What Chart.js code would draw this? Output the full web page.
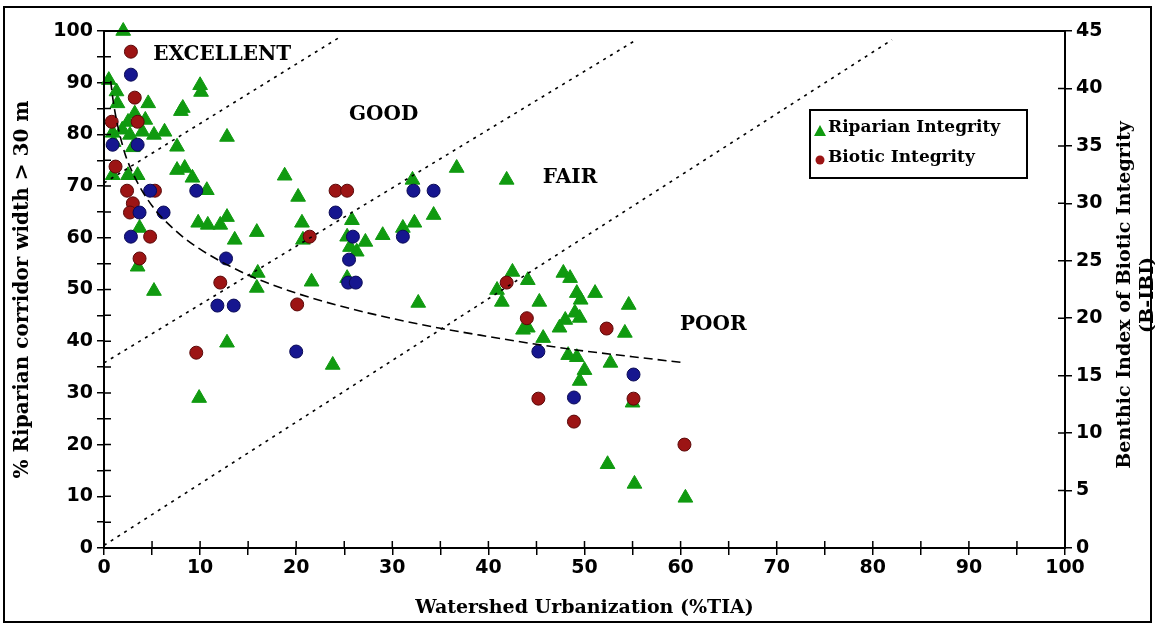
<!DOCTYPE html>
<html>
<head>
<meta charset="utf-8">
<script src="https://cdn.jsdelivr.net/npm/chart.js@4.4.0/dist/chart.umd.min.js"></script>
<style>
  html, body { margin: 0; padding: 0; background: #fff; }
  #wrap { width: 1155px; height: 634px; }
</style>
</head>
<body>
<div id="wrap"><canvas id="chart" width="1155" height="634"></canvas></div>
<script>
// Riparian integrity (% riparian corridor width > 30 m, left axis)
const riparianX = [
  2.0, 0.5, 1.3, 1.4, 4.6, 8.2, 8.0, 10.1, 10.0, 3.2,
  4.3, 2.5, 0.9, 1.9, 2.7, 5.2, 6.3, 7.6, 12.8, 1.0,
  3.0, 4.0, 0.9, 2.5, 3.5, 7.6, 8.4, 9.2, 10.7, 18.8,
  3.7, 9.8, 10.8, 12.1, 12.8, 13.6, 15.9, 3.5, 5.2, 12.8,
  9.9, 16.0, 15.9, 20.2, 20.6, 20.7, 21.6, 23.8, 25.8, 25.3,
  25.6, 26.3, 27.2, 29.0, 31.1, 32.3, 32.1, 34.3, 36.7, 32.7,
  25.3, 41.9, 42.5, 40.9, 41.4, 44.1, 45.3, 47.8, 48.5, 49.2,
  49.6, 51.1, 54.6, 49.0, 49.5, 48.0, 47.4, 43.6, 44.1, 54.2,
  45.7, 48.3, 49.2, 50.0, 49.5, 52.7, 55.0, 52.4, 55.2, 60.5
];
const riparianY = [
  100, 90.5, 88.3, 86, 86, 85.1, 84.5, 88.2, 89.5, 84,
  82.8, 82.4, 80.3, 80.9, 79.9, 79.9, 80.5, 77.6, 79.5, 78.5,
  77.5, 80.5, 72.1, 72.1, 72.1, 73.1, 73.5, 71.6, 69.2, 72,
  61.9, 62.9, 62.5, 62.5, 64, 59.6, 61.1, 54.4, 49.7, 39.7,
  29, 53.2, 50.3, 67.9, 62.9, 59.6, 51.5, 35.4, 63.4, 60.2,
  58.2, 57.3, 59.2, 60.5, 61.9, 62.9, 71.2, 64.4, 73.5, 47.4,
  52.2, 71.2, 53.4, 49.9, 47.6, 51.8, 47.6, 53.2, 52.2, 49.3,
  48, 49.3, 47, 45.5, 44.5, 44.1, 42.6, 42.2, 42.6, 41.6,
  40.6, 37.3, 36.9, 34.4, 32.3, 35.8, 28.1, 16.2, 12.4, 9.7
];

// Biotic integrity (B-IBI, right axis) - red sites
const bioticX = [2.8, 3.2, 0.8, 3.5, 1.2, 2.4, 5.3, 3.0, 2.7, 4.8, 3.7, 12.1,
                 9.6, 20.1, 24.1, 25.3, 21.4, 41.9, 44.0, 52.3, 45.2, 55.1, 48.9, 60.4];
const bioticY = [43.2, 39.2, 37.1, 37.1, 33.2, 31.1, 31.1, 30.0, 29.2, 27.1, 25.2, 23.1,
                 17.0, 21.2, 31.1, 31.1, 27.1, 23.1, 20.0, 19.1, 13.0, 13.0, 11.0, 9.0];

// Biotic integrity (B-IBI, right axis) - blue sites
const bioticBlueX = [2.8, 0.9, 3.5, 4.8, 9.6, 3.7, 6.2, 2.8, 12.7, 11.8, 13.5, 20.0,
                     24.1, 25.9, 25.5, 25.4, 26.2, 32.2, 34.3, 31.1, 45.2, 55.1, 48.9];
const bioticBlueY = [41.2, 35.1, 35.1, 31.1, 31.1, 29.2, 29.2, 27.1, 25.2, 21.1, 21.1, 17.1,
                     29.2, 27.1, 25.1, 23.1, 23.1, 31.1, 31.1, 27.1, 17.1, 15.1, 13.1];

// Trend curve (left axis)
const trendX = [0.7, 1, 2, 3, 5, 7.5, 10, 15, 20, 25, 30, 35, 40, 45, 50, 55, 60.5];
const trendY = [90.3, 85.9, 77.4, 72.5, 66.2, 61.3, 57.8, 52.8, 49.3, 46.6, 44.4, 42.5, 40.9, 39.4, 38.1, 37.0, 35.8];

// Condition class boundaries (left axis)
const boundaryX = [[0, 24.7], [0, 55.4], [0, 82.0]];
const boundaryY = [[70.6, 99.0], [35.8, 98.3], [0.5, 98.3]];

const classLabels = ['EXCELLENT', 'GOOD', 'FAIR', 'POOR'];
const classLabelX = [12.3, 29.1, 48.5, 63.4];
const classLabelY = [95.4, 83.8, 71.6, 43.1];

const xTitle = 'Watershed Urbanization (%TIA)';
const yTitle = '% Riparian corridor width > 30 m';
const y2Title = ['Benthic Index of Biotic Integrity', '(B-IBI)'];

const pts = (xs, ys) => xs.map((x, i) => ({x: x, y: ys[i]}));

const serif = '"DejaVu Serif", "Liberation Serif", serif';
const sans = '"DejaVu Sans", "Liberation Sans", sans-serif';
const green = '#109a10';
const red = '#9c1414';
const blue = '#16168f';

const boundaryDatasets = boundaryX.map((xs, i) => ({
  type: 'line',
  data: pts(xs, boundaryY[i]),
  yAxisID: 'y',
  borderColor: '#000',
  borderWidth: 1.6,
  borderDash: [3, 5],
  pointRadius: 0,
  fill: false
}));

// draws the box, inner tick halves, right title, class labels and legend
const decorPlugin = {
  id: 'decor',
  afterDraw(chart) {
    const {ctx, chartArea: a, scales} = chart;
    ctx.save();
    ctx.strokeStyle = '#000';
    ctx.fillStyle = '#000';

    // outer frame
    ctx.lineWidth = 2;
    ctx.strokeRect(4, 7, 1147, 615);
    // plot box
    ctx.strokeRect(a.left, a.top, a.right - a.left, a.bottom - a.top);

    // tick marks crossing the axis lines
    ctx.lineWidth = 1.5;
    ctx.beginPath();
    scales.x.ticks.forEach(t => {
      const px = scales.x.getPixelForValue(t.value);
      ctx.moveTo(px, a.bottom); ctx.lineTo(px, a.bottom - 7);
    });
    scales.y.ticks.forEach(t => {
      const py = scales.y.getPixelForValue(t.value);
      ctx.moveTo(a.left, py); ctx.lineTo(a.left + 7, py);
    });
    scales.y2.ticks.forEach(t => {
      const py = scales.y2.getPixelForValue(t.value);
      ctx.moveTo(a.right, py); ctx.lineTo(a.right - 7, py);
    });
    ctx.stroke();

    // right axis title, reading bottom to top
    ctx.save();
    ctx.font = 'bold 19px ' + serif;
    ctx.textAlign = 'center';
    ctx.textBaseline = 'middle';
    ctx.translate(1125, 295);
    ctx.rotate(-Math.PI / 2);
    ctx.fillText(y2Title[0], 0, 0);
    ctx.fillText(y2Title[1], 0, 23);
    ctx.restore();

    // condition class labels
    ctx.font = 'bold 20px ' + serif;
    ctx.textAlign = 'center';
    ctx.textBaseline = 'middle';
    classLabels.forEach((txt, i) => {
      ctx.fillText(txt, scales.x.getPixelForValue(classLabelX[i]), scales.y.getPixelForValue(classLabelY[i]));
    });

    // legend
    const lx = 810, ly = 110;
    ctx.lineWidth = 2;
    ctx.fillStyle = '#fff';
    ctx.fillRect(lx, ly, 217, 68);
    ctx.strokeRect(lx, ly, 217, 68);
    ctx.fillStyle = green;
    ctx.beginPath();
    ctx.moveTo(lx + 10, ly + 15); ctx.lineTo(lx + 16, ly + 26); ctx.lineTo(lx + 4, ly + 26);
    ctx.closePath(); ctx.fill();
    ctx.fillStyle = red;
    ctx.beginPath(); ctx.arc(lx + 10, ly + 50, 4.5, 0, Math.PI * 2); ctx.fill();
    ctx.fillStyle = '#000';
    ctx.font = 'bold 17px ' + serif;
    ctx.textAlign = 'left';
    ctx.fillText(chart.data.datasets[6].label, lx + 18, ly + 18);
    ctx.fillText(chart.data.datasets[5].label, lx + 18, ly + 48);
    ctx.restore();
  }
};

const tickFont = {family: sans, size: 19, weight: 'bold'};

new Chart(document.getElementById('chart'), {
  type: 'scatter',
  data: {
    datasets: [
      ...boundaryDatasets,
      {
        type: 'line',
        label: 'Trend',
        data: pts(trendX, trendY),
        yAxisID: 'y',
        borderColor: '#000',
        borderWidth: 1.6,
        borderDash: [9, 5],
        pointRadius: 0,
        cubicInterpolationMode: 'monotone',
        fill: false
      },
      {
        label: 'Biotic Integrity (other sites)',
        data: pts(bioticBlueX, bioticBlueY),
        yAxisID: 'y2',
        pointStyle: 'circle',
        pointRadius: 6.5,
        backgroundColor: blue,
        borderColor: '#0a0a55',
        borderWidth: 1,
        clip: false
      },
      {
        label: 'Biotic Integrity',
        data: pts(bioticX, bioticY),
        yAxisID: 'y2',
        pointStyle: 'circle',
        pointRadius: 6.5,
        backgroundColor: red,
        borderColor: '#5a0808',
        borderWidth: 1,
        clip: false
      },
      {
        label: 'Riparian Integrity',
        data: pts(riparianX, riparianY),
        yAxisID: 'y',
        pointStyle: 'triangle',
        pointRadius: 8.5,
        backgroundColor: green,
        borderColor: green,
        borderWidth: 1,
        clip: false
      }
    ]
  },
  options: {
    responsive: false,
    animation: false,
    layout: {padding: {top: 31}},
    plugins: {
      legend: {display: false},
      tooltip: {enabled: false}
    },
    scales: {
      x: {
        type: 'linear',
        position: 'bottom',
        min: 0,
        max: 100,
        afterFit: s => { s.height = 86; },
        ticks: {
          stepSize: 5,
          autoSkip: false,
          maxRotation: 0,
          padding: 2,
          color: '#000',
          font: tickFont,
          callback: v => (v % 10 === 0 ? v : '')
        },
        grid: {drawOnChartArea: false, tickLength: 7, color: '#000', lineWidth: 1.5},
        border: {color: '#000', width: 2},
        title: {
          display: true,
          text: xTitle,
          color: '#000',
          font: {family: serif, size: 19, weight: 'bold'},
          padding: {bottom: 15}
        }
      },
      y: {
        position: 'left',
        min: 0,
        max: 100,
        afterFit: s => { s.width = 104; },
        ticks: {
          stepSize: 5,
          autoSkip: false,
          padding: 4,
          color: '#000',
          font: tickFont,
          callback: v => (v % 10 === 0 ? v : '')
        },
        grid: {drawOnChartArea: false, tickLength: 7, color: '#000', lineWidth: 1.5},
        border: {color: '#000', width: 2},
        title: {
          display: true,
          text: yTitle,
          color: '#000',
          font: {family: serif, size: 20, weight: 'bold'},
          padding: {top: 11}
        }
      },
      y2: {
        position: 'right',
        min: 0,
        max: 45,
        afterFit: s => { s.width = 90; },
        ticks: {
          stepSize: 5,
          autoSkip: false,
          padding: 4,
          color: '#000',
          font: tickFont
        },
        grid: {drawOnChartArea: false, tickLength: 7, color: '#000', lineWidth: 1.5},
        border: {color: '#000', width: 2}
      }
    }
  },
  plugins: [decorPlugin]
});
</script>
</body>
</html>
